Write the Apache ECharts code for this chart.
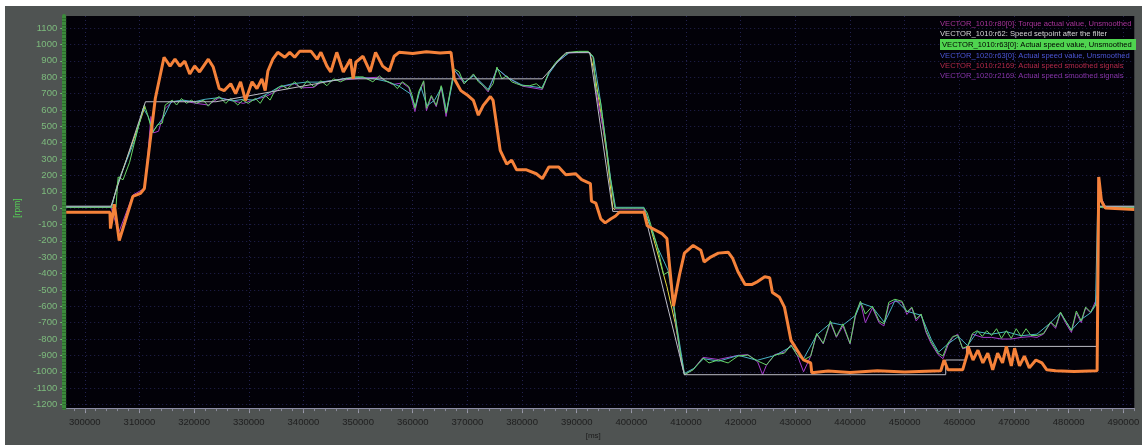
<!DOCTYPE html>
<html>
<head>
<meta charset="utf-8">
<title>Drive trace</title>
<script src="https://cdn.jsdelivr.net/npm/echarts@6/dist/echarts.min.js"></script>
<style>
  html, body { margin: 0; padding: 0; background: #ffffff; }
  #chart { position: absolute; left: 5px; top: 6px; width: 1137px; height: 439px; }
</style>
</head>
<body>
<div id="chart"></div>
<script>
// Signal names shown in the trace legend
const seriesNames = [
  'VECTOR_1010:r80[0]: Torque actual value, Unsmoothed',
  'VECTOR_1010:r62: Speed setpoint after the filter',
  'VECTOR_1010:r63[0]: Actual speed value, Unsmoothed',
  'VECTOR_1020:r63[0]: Actual speed value, Unsmoothed',
  'VECTOR_1010:r2169: Actual speed smoothed signals',
  'VECTOR_1020:r2169: Actual speed smoothed signals'
];

// Axis tick values
const xTicks = [300000, 310000, 320000, 330000, 340000, 350000, 360000, 370000, 380000, 390000,
                400000, 410000, 420000, 430000, 440000, 450000, 460000, 470000, 480000, 490000];
const yTicks = [-1200, -1100, -1000, -900, -800, -700, -600, -500, -400, -300, -200, -100,
                0, 100, 200, 300, 400, 500, 600, 700, 800, 900, 1000, 1100];

// Samples as [time in ms, value]
const torque = [
  [296600,-25],[304600,-25],[304700,-125],[305200,-25],[305400,24],[306300,-198],[308800,72],
  [310200,90],[310900,120],[312900,670],[314500,922],[315600,868],[316500,910],[317400,868],
  [318300,898],[319200,820],[320100,868],[321000,832],[322600,910],[323500,862],[324600,730],
  [325500,718],[326700,760],[327600,700],[328500,772],[329400,658],[330600,772],[331500,730],
  [332400,790],[333000,718],[333500,838],[334400,910],[335300,952],[336600,922],[337500,952],
  [338400,922],[339300,958],[341400,958],[342500,910],[343200,952],[344300,868],[345000,832],
  [346100,952],[347300,832],[348600,910],[349100,790],[349600,892],[350900,928],[352200,832],
  [353200,952],[354500,868],[355700,838],[356600,928],[357500,952],[360000,945],[362500,955],
  [365000,948],[367000,952],[367600,790],[368800,718],[370100,688],[371100,658],[372000,568],
  [372900,628],[374200,682],[374700,658],[376000,353],[377200,269],[378100,293],[379000,234],
  [380800,234],[382600,210],[383700,180],[384900,251],[386700,251],[388000,204],[389800,210],
  [390900,174],[392500,150],[392700,42],[393500,30],[394400,-66],[395200,-90],[396200,-66],
  [397100,-48],[397800,-25],[402300,-25],[402900,-108],[405600,-156],[406500,-186],[407700,-599],
  [408800,-407],[409700,-275],[411300,-228],[412700,-257],[413300,-329],[414500,-299],
  [415900,-275],[417700,-269],[418500,-305],[419500,-389],[420800,-467],[422000,-467],
  [423100,-449],[424400,-419],[425300,-425],[425800,-515],[427100,-545],[428000,-605],
  [428500,-689],[429200,-808],[430100,-856],[431000,-904],[431500,-928],[432800,-946],
  [433000,-1006],[436000,-996],[440000,-1004],[445000,-994],[450000,-1002],[456600,-994],
  [457200,-928],[457900,-988],[460600,-988],[461500,-886],[461600,-845],[462500,-928],
  [463400,-868],[464300,-946],[465200,-886],[466100,-988],[467000,-886],[467900,-946],
  [468600,-845],[469500,-964],[470100,-856],[471000,-964],[471900,-904],[472800,-976],
  [474000,-928],[475100,-946],[476000,-988],[477600,-994],[481000,-998],[485200,-994],
  [485500,190],[486000,42],[486700,0],[492000,-8]
];

const setpoint = [
  [296600,12],[304800,12],[311100,650],[324000,650],[347300,790],[383700,790],[388000,950],
  [392400,950],[396600,-20],[402300,-20],[409700,-1018],[457500,-1018],[457500,-928],
  [461300,-928],[461300,-845],[485300,-845],[485300,12],[492000,12]
];

const speed1010 = [
  [296600,5],[304800,5],[305700,5],[306100,190],[307000,173],[308200,280],[309300,430],
  [310600,600],[310900,630],[311500,570],[312400,460],[313300,509],[314200,520],[314700,630],
  [316000,660],[316800,630],[317700,670],[318600,640],[319500,660],[320400,640],[321700,660],
  [322600,623],[323500,660],[324600,682],[325800,640],[326700,670],[328000,630],[328900,660],
  [329900,640],[331200,670],[332100,640],[333000,690],[333900,660],[334800,720],[336000,750],
  [337100,730],[338400,772],[339600,730],[340700,778],[341900,742],[343200,778],[344300,748],
  [345500,790],[346800,772],[347900,790],[349100,802],[350900,802],[352700,772],[353900,808],
  [355000,778],[356300,760],[357200,730],[358100,772],[359300,742],[359900,688],[360400,610],
  [361100,712],[362000,778],[362500,610],[363400,688],[364300,628],[365200,748],[366100,580],
  [366700,688],[367600,850],[368500,832],[369400,760],[370300,790],[371100,820],[372000,772],
  [372900,748],[373800,718],[374700,760],[375400,862],[376300,790],[377200,808],[378100,772],
  [379000,760],[380100,748],[381400,748],[382600,760],[383700,730],[384900,832],[386200,892],
  [387300,928],[388500,952],[390300,958],[392100,958],[393000,928],[393500,730],[394300,658],
  [395200,431],[396100,192],[397000,0],[402300,0],[402900,-30],[404700,-228],[405900,-407],
  [406800,-389],[407300,-467],[408200,-707],[409100,-928],[409700,-1018],[411300,-988],
  [413100,-916],[414200,-946],[415900,-928],[417700,-946],[419500,-904],[421300,-898],
  [423100,-934],[424700,-958],[426200,-898],[428000,-886],[429200,-838],[430300,-898],
  [431500,-928],[432800,-904],[433900,-766],[435100,-826],[436400,-689],[437500,-784],
  [438700,-707],[440000,-826],[441000,-647],[441900,-569],[442800,-647],[444100,-599],
  [445300,-689],[446200,-707],[447100,-575],[448200,-557],[449500,-569],[450400,-635],
  [451300,-605],[452100,-677],[453000,-647],[453900,-749],[454800,-814],[456100,-886],
  [457000,-904],[457900,-826],[458800,-784],[459700,-778],[460600,-856],[461500,-845],
  [462400,-766],[463300,-749],[464200,-784],[465000,-749],[465900,-778],[466800,-737],
  [467700,-796],[468600,-749],[469500,-796],[470400,-737],[471300,-784],[472200,-737],
  [473100,-778],[474200,-778],[475400,-766],[476700,-695],[477600,-725],[478500,-635],
  [479400,-689],[480500,-749],[481400,-629],[482300,-689],[483100,-605],[484000,-635],
  [484900,-587],[485200,-600],[485400,5],[492000,5]
];

const speed1020 = [
  [296600,8],[304900,8],[306200,170],[309200,420],[310700,610],[311600,560],[312500,470],
  [314500,560],[315800,650],[318000,660],[320000,650],[322000,665],[324500,675],[327000,655],
  [329000,665],[331000,660],[333500,700],[335500,740],[338000,760],[340500,770],[343000,770],
  [345500,780],[348000,795],[350500,798],[353000,790],[355500,772],[357500,745],[359500,700],
  [360500,620],[361500,740],[362600,625],[364000,660],[365300,740],[366200,590],[367700,840],
  [369500,770],[371200,810],[373800,725],[375500,850],[377500,795],[380000,752],[383600,735],
  [385000,825],[386500,895],[388600,950],[392000,955],[393100,920],[394400,640],[396200,180],
  [397100,5],[402300,5],[404800,-240],[406700,-380],[408300,-720],[409700,-1010],[411400,-980],
  [413200,-920],[416000,-935],[419600,-900],[423000,-930],[426300,-900],[429300,-845],
  [431500,-920],[433900,-775],[436500,-700],[438700,-715],[441000,-655],[442000,-580],
  [444100,-605],[446300,-700],[448300,-560],[450400,-630],[453000,-655],[454900,-805],
  [456200,-880],[457900,-830],[459800,-785],[461500,-840],[463300,-755],[465900,-770],
  [468600,-755],[471300,-780],[474200,-770],[476700,-700],[478500,-640],[480500,-745],
  [482300,-680],[484000,-640],[484900,-595],[485300,8],[492000,8]
];

// Smoothed 1010 signal, shown only along the ramps
const smooth1010 = [
  [304900,5],[306000,150],[308000,330],[310000,520],[311000,620],[311100,'-'],
  [392400,950],[393400,800],[394500,560],[395500,330],[396600,0],[397000,-10],[397100,'-'],
  [402300,-10],[403500,-120],[405000,-300],[406500,-480],[408000,-700],[409600,-1000]
];

const smooth1020 = [
  [296600,5],[304800,5],[305000,5],[306200,-150],[308800,80],[310900,120],[311600,350],
  [312100,560],[312600,460],[313500,470],[314700,610],[316000,650],[318000,655],[320400,640],
  [322600,630],[324600,675],[326700,660],[329000,640],[331200,665],[333000,680],[334800,710],
  [336000,740],[338400,760],[339600,735],[341900,738],[343200,770],[345500,780],[347900,785],
  [350900,795],[353900,800],[356300,755],[358100,765],[359300,735],[360400,590],[361100,700],
  [362000,770],[362500,595],[363400,680],[364300,620],[365200,740],[366100,560],[366700,680],
  [367600,845],[369400,760],[371100,815],[373800,710],[375400,855],[377200,800],[380100,745],
  [383700,725],[384900,825],[386200,885],[388500,948],[392100,955],[393000,920],[393500,720],
  [395200,420],[396100,190],[397000,-5],[402300,-5],[402900,-100],[405600,-156],[406500,-186],
  [407700,-599],[408200,-720],[409100,-940],[409700,-1018],[411300,-985],[413100,-912],
  [415900,-925],[419500,-900],[421300,-895],[423100,-940],[424000,-1018],[424700,-960],
  [426200,-895],[428000,-880],[429200,-835],[430300,-895],[431500,-1000],[432800,-905],
  [433900,-770],[435100,-830],[436400,-700],[437500,-790],[438700,-720],[440000,-830],
  [441000,-660],[441900,-575],[442800,-700],[444100,-610],[445300,-700],[446200,-720],
  [447100,-590],[448200,-570],[449500,-575],[450400,-650],[451300,-610],[452100,-690],
  [453000,-650],[453900,-760],[454800,-825],[456100,-895],[457000,-920],[457900,-840],
  [458800,-790],[459700,-770],[460600,-860],[461500,-850],[462400,-770],[464200,-790],
  [465900,-790],[467700,-800],[469500,-800],[471300,-790],[473100,-785],[474200,-790],
  [475400,-770],[476700,-700],[477600,-735],[478500,-640],[479400,-700],[480500,-760],
  [481400,-640],[482300,-700],[483100,-610],[484000,-640],[484900,-570],[485200,-530],
  [485400,190],[486000,60],[486700,10],[492000,5]
];

const X_MIN = 296600, X_MAX = 492000;
const Y_MIN = -1222, Y_MAX = 1174;

// fine ruler ticks along the axes
const xMinorTicks = [];
for (let v = 298000; v <= X_MAX; v += 2000) xMinorTicks.push(v);
const yMinorTicks = [];
for (let v = -1220; v <= 1160; v += 20) yMinorTicks.push(v);

const sans = "'Liberation Sans', Arial, sans-serif";

const chart = echarts.init(document.getElementById('chart'), null, { renderer: 'canvas' });

function line(name, data, color, width, z) {
  return {
    name: name, type: 'line', data: data, xAxisIndex: 0, yAxisIndex: 0,
    showSymbol: false, symbol: 'none', connectNulls: false, z: z,
    lineStyle: { color: color, width: width }, itemStyle: { color: color },
    emphasis: { disabled: true }
  };
}

chart.setOption({
  animation: false,
  backgroundColor: '#4f5352',
  grid: {
    left: 42, top: 10, right: 5, bottom: 29,
    show: true, backgroundColor: '#020108', borderWidth: 0
  },
  legend: {
    orient: 'vertical', left: 925, top: 8,
    icon: 'none', itemWidth: 0, itemHeight: 10, itemGap: 1,
    selectedMode: false,
    textStyle: { fontFamily: sans, fontSize: 7.6 },
    data: [
      { name: seriesNames[0], textStyle: { color: '#a8349a' } },
      { name: seriesNames[1], textStyle: { color: '#d6d6d6' } },
      { name: seriesNames[2], textStyle: { color: '#000000', backgroundColor: '#4fd44f', padding: [2, 2, 1, 2], width: 192 } },
      { name: seriesNames[3], textStyle: { color: '#4c56d6' } },
      { name: seriesNames[4], textStyle: { color: '#b42a4a' } },
      { name: seriesNames[5], textStyle: { color: '#8634a8' } }
    ]
  },
  xAxis: [
    {
      type: 'value', min: X_MIN, max: X_MAX, position: 'bottom',
      name: '[ms]', nameLocation: 'middle', nameGap: 21,
      nameTextStyle: { color: '#1c1c1c', fontFamily: sans, fontSize: 8, padding: [0, 14, 0, 0] },
      axisLine: { show: true, onZero: false, lineStyle: { color: '#8c8ca6', width: 1 } },
      axisTick: { show: true, length: 5, customValues: xTicks, lineStyle: { color: '#9a9aaa' } },
      axisLabel: { customValues: xTicks, color: '#1e1e1e', fontFamily: sans, fontSize: 9.5, margin: 9,
                   formatter: v => String(v) },
      splitLine: { show: true, lineStyle: { color: '#22224f', type: [1, 3], width: 1 } }
    },
    {
      type: 'value', min: X_MIN, max: X_MAX, position: 'bottom',
      axisLine: { show: false, onZero: false },
      axisTick: { show: true, length: 3, customValues: xMinorTicks, lineStyle: { color: '#8a8a9a' } },
      axisLabel: { show: false },
      splitLine: { show: false }
    }
  ],
  yAxis: [
    {
      type: 'value', min: Y_MIN, max: Y_MAX, offset: 2,
      name: '[rpm]', nameLocation: 'middle', nameRotate: 90, nameGap: 33,
      nameTextStyle: { color: '#56d256', fontFamily: sans, fontSize: 8.5, padding: [0, 0, 0, 8] },
      axisLine: { show: true, onZero: false, lineStyle: { color: '#3c8a3c', width: 4 } },
      axisTick: { show: true, length: 4, customValues: yTicks, lineStyle: { color: '#6fb86f' } },
      axisLabel: { customValues: yTicks, color: '#7dbb7d', fontFamily: sans, fontSize: 9.5, margin: 7,
                   formatter: v => String(v) },
      splitLine: { show: true, lineStyle: { color: '#22224f', type: [1, 3], width: 1 } }
    },
    {
      type: 'value', min: Y_MIN, max: Y_MAX, offset: 0, position: 'left',
      axisLine: { show: false, onZero: false },
      axisTick: { show: true, inside: false, length: 4, customValues: yMinorTicks, lineStyle: { color: '#2c6a2c' } },
      axisLabel: { show: false },
      splitLine: { show: false }
    }
  ],
  series: [
    line(seriesNames[4], smooth1010, '#e4dc3c', 1, 2),
    line(seriesNames[5], smooth1020, '#a63ccc', 1, 3),
    line(seriesNames[3], speed1020, '#48b4c4', 1, 4),
    line(seriesNames[2], speed1010, '#66d466', 1, 5),
    line(seriesNames[1], setpoint, '#bdbdc6', 1, 6),
    line(seriesNames[0], torque, '#f5823a', 3, 7)
  ]
});
</script>
</body>
</html>
